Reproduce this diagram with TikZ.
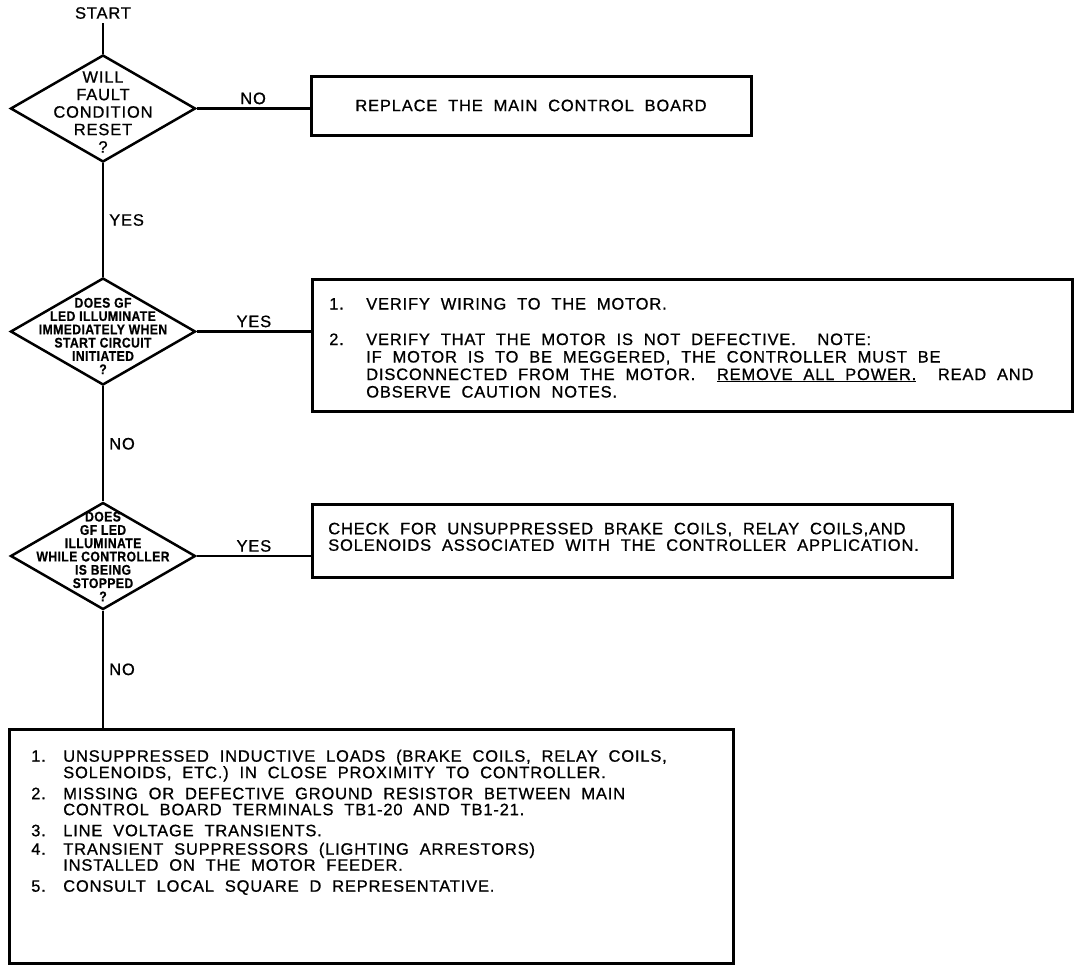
\documentclass[tikz,border=0pt]{standalone}
\usepackage{fontspec}
\setmainfont{Liberation Sans}[LetterSpace=5, WordSpace=2, FakeBold=0.8]
\newfontfamily\qfont{Liberation Sans}[FakeStretch=0.87, LetterSpace=3, FakeBold=0.6]
\usetikzlibrary{shapes.geometric, calc}

\newcommand{\boxfont}{\fontsize{16.5}{17.5}\selectfont}

\begin{document}
\begin{tikzpicture}[x=1pt, y=-1pt, line width=2.5pt,
  lbl/.style={font=\boxfont, inner sep=3pt},
  decision/.style={draw, diamond, minimum width=185pt, minimum height=107pt, inner sep=0pt},
  qtext/.style={font=\qfont\bfseries\fontsize{14}{13.3}\selectfont, align=center, inner sep=0pt},
  box/.style={draw, line width=3pt, rectangle, inner sep=0pt},
  txt/.style={anchor=north west, inner sep=0pt}]
  \useasboundingbox (0,0) rectangle (1089,966);

  % ===== start and first question =====
  \node[lbl] (start) at (103,13) {START};
  \node[decision] (d1) at (103,108.5) {};
  \node[font=\boxfont, align=center, inner sep=0pt] (q1) at (103,112) {WILL\\FAULT\\CONDITION\\RESET\\?};
  \node[box, font=\boxfont, minimum width=440pt, minimum height=59pt] (b1) at (531,105.5) {REPLACE THE MAIN CONTROL BOARD};
  \draw (start) -- (d1.north);
  \draw (d1.east) -- node[lbl, above] {NO} (d1.east -| b1.west);

  % ===== second question =====
  \node[decision] (d2) at (103,331.5) {};
  \node[qtext] (q2) at (103,336) {DOES GF\\LED ILLUMINATE\\IMMEDIATELY WHEN\\START CIRCUIT\\INITIATED\\?};
  \node[box, anchor=north west, minimum width=760pt, minimum height=132pt] (b2) at (311,277.5) {};
  \node[txt, font=\boxfont] (t2) at ([shift={(17,18.5)}]b2.north west) {%
    \begin{tabular}{@{}p{37pt}@{}l@{}}
      1. & VERIFY WIRING TO THE MOTOR.\\[18pt]
      2. & VERIFY THAT THE MOTOR IS NOT DEFECTIVE.\ \ NOTE:\\
         & IF MOTOR IS TO BE MEGGERED, THE CONTROLLER MUST BE\\
         & DISCONNECTED FROM THE MOTOR.\ \ \underline{REMOVE ALL POWER.}\ \ READ AND\\
         & OBSERVE CAUTION NOTES.
    \end{tabular}};
  \draw (d1.south) -- node[lbl, right, xshift=2pt] {YES} (d2.north);
  \draw (d2.east) -- node[lbl, above] {YES} (d2.east -| b2.west);

  % ===== third question =====
  \node[decision] (d3) at (103,556) {};
  \node[qtext] (q3) at (103,556.5) {DOES\\GF LED\\ILLUMINATE\\WHILE CONTROLLER\\IS BEING\\STOPPED\\?};
  \node[box, anchor=north west, minimum width=640pt, minimum height=73pt] (b3) at (311,503) {};
  \node[txt, font=\fontsize{16.5}{16.5}\selectfont, align=left] (t3) at ([shift={(16,18.5)}]b3.north west)
    {CHECK FOR UNSUPPRESSED BRAKE COILS, RELAY COILS,AND\\SOLENOIDS ASSOCIATED WITH THE CONTROLLER APPLICATION.};
  \draw (d2.south) -- node[lbl, right, xshift=2pt] {NO} (d3.north);
  \draw (d3.east) -- node[lbl, above] {YES} (d3.east -| b3.west);

  % ===== possible causes =====
  \node[box, anchor=north west, minimum width=724pt, minimum height=234pt] (b4) at (8,728) {};
  \node[txt, font=\fontsize{16.5}{15}\selectfont] (t4) at ([shift={(22,20.5)}]b4.north west) {%
    \begin{tabular}{@{}p{32pt}@{}l@{}}
      1. & UNSUPPRESSED INDUCTIVE LOADS (BRAKE COILS, RELAY COILS,\\
         & SOLENOIDS, ETC.) IN CLOSE PROXIMITY TO CONTROLLER.\\[5pt]
      2. & MISSING OR DEFECTIVE GROUND RESISTOR BETWEEN MAIN\\
         & CONTROL BOARD TERMINALS TB1-20 AND TB1-21.\\[5pt]
      3. & LINE VOLTAGE TRANSIENTS.\\[2pt]
      4. & TRANSIENT SUPPRESSORS (LIGHTING ARRESTORS)\\
         & INSTALLED ON THE MOTOR FEEDER.\\[5pt]
      5. & CONSULT LOCAL SQUARE D REPRESENTATIVE.
    \end{tabular}};
  \draw (d3.south) -- node[lbl, right, xshift=2pt] {NO} (d3.south |- b4.north);
\end{tikzpicture}
\end{document}
